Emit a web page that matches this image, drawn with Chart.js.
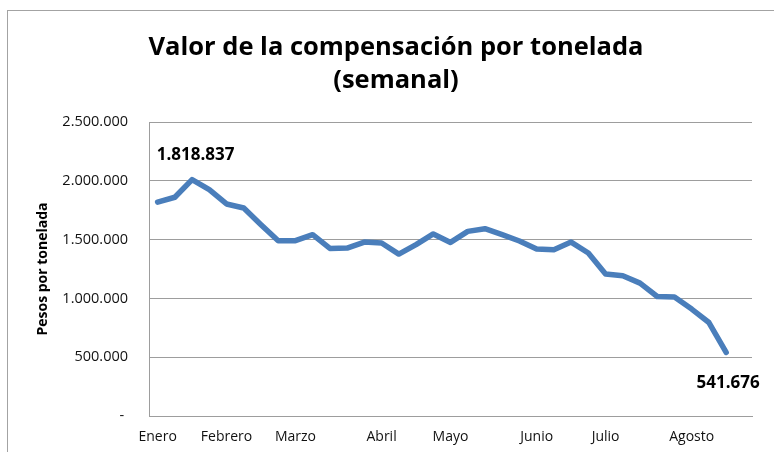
<!DOCTYPE html>
<html>
<head>
<meta charset="utf-8">
<script src="https://cdn.jsdelivr.net/npm/chart.js@4.4.1/dist/chart.umd.min.js"></script>
<style>
    html, body { margin: 0; padding: 0; background: #fff; }
</style>
</head>
<body>
<canvas id="chart" width="774" height="452"></canvas>
<script>
// one category per week, month name on the first week of each month
const weekLabels = [
    'Enero', '', '', '',
    'Febrero', '', '', '',
    'Marzo', '', '', '', '',
    'Abril', '', '', '',
    'Mayo', '', '', '', '',
    'Junio', '', '', '',
    'Julio', '', '', '', '',
    'Agosto', '', '', ''
];

const pesosPorTonelada = [
    1818837, 1860000, 2010000, 1925000, 1803000, 1769000, 1627000, 1491000,
    1491000, 1542000, 1425000, 1428000, 1479000, 1471000, 1377000, 1457000,
    1548000, 1476000, 1570000, 1593000, 1542000, 1488000, 1420000, 1414000,
    1479000, 1386000, 1207000, 1193000, 1130000, 1016000, 1011000, 909000,
    795000, 541676
];

const yTicks = [0, 500000, 1000000, 1500000, 2000000, 2500000];

// points that carry a value label
const labelledPoints = [0, pesosPorTonelada.length - 1];

function formatPesos(v) {
    return String(Math.round(v)).replace(/\B(?=(\d{3})+(?!\d))/g, '.');
}

const FONT = "'Open Sans', 'Noto Sans', sans-serif";

const framePlugin = {
    id: 'frame',
    beforeDraw(chart) {
        const ctx = chart.ctx;
        ctx.save();
        ctx.fillStyle = '#fff';
        ctx.fillRect(0, 0, chart.width, chart.height);
        ctx.strokeStyle = '#a3a3a3';
        ctx.lineWidth = 1;
        ctx.strokeRect(7.5, 10.5, chart.width + 20, chart.height + 20);
        ctx.restore();
    }
};

const valueLabelPlugin = {
    id: 'valueLabels',
    afterDatasetsDraw(chart) {
        const ctx = chart.ctx;
        const meta = chart.getDatasetMeta(0);
        const offsets = { 0: [38, -47], 33: [2, 31] };
        ctx.save();
        ctx.font = 'bold 17px ' + FONT;
        ctx.fillStyle = '#000';
        ctx.textAlign = 'center';
        ctx.textBaseline = 'middle';
        labelledPoints.forEach(i => {
            const p = meta.data[i];
            const off = offsets[i] || [0, -20];
            ctx.fillText(formatPesos(pesosPorTonelada[i]), p.x + off[0], p.y + off[1]);
        });
        ctx.restore();
    }
};

function buildCompensationChart() {
    const chartCtx = document.getElementById('chart').getContext('2d');

    new Chart(chartCtx, {
        type: 'line',
        data: {
            labels: weekLabels,
            datasets: [{
                label: 'Pesos por tonelada',
                data: pesosPorTonelada,
                borderColor: '#4a7ebb',
                backgroundColor: '#4a7ebb',
                borderWidth: 5.5,
                borderJoinStyle: 'round',
                borderCapStyle: 'round',
                pointRadius: 0,
                tension: 0
            }]
        },
        options: {
            responsive: false,
            animation: false,
            devicePixelRatio: 1,
            layout: {
                padding: { left: 40, right: 22, top: 0, bottom: 0 }
            },
            plugins: {
                legend: { display: false },
                tooltip: { enabled: false },
                title: {
                    display: true,
                    text: ['Valor de la compensación por tonelada', '(semanal)'],
                    color: '#000',
                    font: { family: FONT, size: 25.5, weight: 'bold', lineHeight: 1.3 },
                    padding: { top: 31, bottom: 24.7 }
                }
            },
            scales: {
                x: {
                    type: 'category',
                    offset: true,
                    grid: { display: false, drawTicks: false },
                    border: { display: true, color: '#9d9d9d' },
                    ticks: {
                        autoSkip: false,
                        maxRotation: 0,
                        padding: 13,
                        color: '#111',
                        font: { family: FONT, size: 14 }
                    },
                    afterFit(scale) { scale.height = 36; }
                },
                y: {
                    min: 0,
                    max: 2500000,
                    afterBuildTicks(scale) {
                        scale.ticks = yTicks.map(v => ({ value: v }));
                    },
                    grid: { color: '#9d9d9d', drawTicks: false },
                    border: { display: true, color: '#9d9d9d' },
                    ticks: {
                        padding: 21,
                        color: '#111',
                        font: { family: FONT, size: 14.5 },
                        callback: v => v === 0 ? '- ' : formatPesos(v)
                    },
                    title: {
                        display: true,
                        text: 'Pesos por tonelada',
                        color: '#000',
                        font: { family: FONT, size: 14, weight: 'bold' },
                        padding: { top: -5.4, bottom: 0 }
                    },
                    afterFit(scale) { scale.width = 109; }
                }
            }
        },
        plugins: [framePlugin, valueLabelPlugin]
    });
}

window.addEventListener('load', () => {
    buildCompensationChart();
});
</script>
</body>
</html>
